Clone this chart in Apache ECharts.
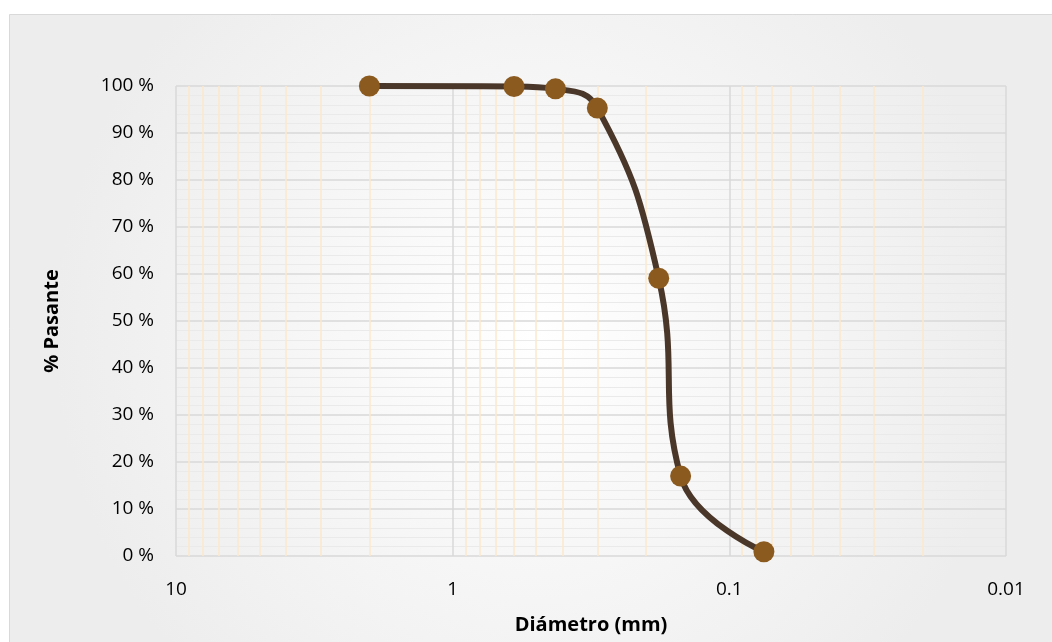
<!DOCTYPE html>
<html>
<head>
<meta charset="utf-8">
<script src="https://cdn.jsdelivr.net/npm/echarts@6/dist/echarts.min.js"></script>
<style>
html,body{margin:0;padding:0;background:#fff;}
#chart{width:1052px;height:642px;}
</style>
</head>
<body>
<div id="chart"></div>
<script>
const diameters = [2.0, 0.6, 0.425, 0.3, 0.18, 0.15, 0.075];
const passing = [100, 99.9, 99.4, 95.3, 59.1, 17.0, 0.9];
const xTickLabels = ['10', '1', '0.1', '0.01'];
const minorGridValues = [9, 8, 7, 6, 5, 4, 3, 2,
  0.9, 0.8, 0.7, 0.6, 0.5, 0.4, 0.3, 0.2,
  0.09, 0.08, 0.07, 0.06, 0.05, 0.04, 0.03, 0.02];

const chart = echarts.init(document.getElementById('chart'));
const font = '"Open Sans", "Noto Sans", sans-serif';

chart.setOption({
  animation: false,
  graphic: [{
    type: 'rect',
    z: -10,
    shape: { x: 9.5, y: 14.5, width: 1050, height: 640 },
    style: {
      fill: new echarts.graphic.RadialGradient(0.5, 0.5, 0.75, [
        { offset: 0, color: '#ffffff' },
        { offset: 1, color: '#ededed' }
      ]),
      stroke: '#d9d9d9',
      lineWidth: 1
    }
  }],
  grid: { left: 176, right: 46, top: 86, bottom: 86, containLabel: false },
  xAxis: {
    type: 'log',
    logBase: 10,
    min: 0.01,
    max: 10,
    inverse: true,
    name: 'Diámetro (mm)',
    nameLocation: 'middle',
    nameGap: 59,
    nameTextStyle: { fontFamily: font, fontSize: 20, fontWeight: 'bold', color: '#000' },
    axisLine: { show: false },
    axisTick: { show: false },
    axisLabel: {
      margin: 24,
      fontFamily: font, fontSize: 19, color: '#000',
      formatter: function (v) {
        const idx = Math.round(1 - Math.log10(v));
        return xTickLabels[idx] !== undefined ? xTickLabels[idx] : String(v);
      }
    },
    splitLine: { show: true, lineStyle: { color: '#d9d9d9', width: 1.5 } }
  },
  yAxis: {
    type: 'value',
    min: 0,
    max: 100,
    interval: 10,
    name: '% Pasante',
    nameLocation: 'middle',
    nameGap: 114,
    nameRotate: 90,
    nameTextStyle: { fontFamily: font, fontSize: 20, fontWeight: 'bold', color: '#000' },
    axisLine: { show: false },
    axisTick: { show: false },
    axisLabel: { margin: 22, fontFamily: font, fontSize: 19, color: '#000', formatter: '{value} %' },
    splitLine: { show: true, lineStyle: { color: '#d9d9d9', width: 1.5 } },
    minorTick: { show: false, splitNumber: 5 },
    minorSplitLine: { show: true, lineStyle: { color: '#eaeaea', width: 1.2 } }
  },
  series: [
    {
      type: 'line',
      z: 1,
      data: [],
      silent: true,
      markLine: {
        z: 1,
        silent: true,
        symbol: ['none', 'none'],
        label: { show: false },
        lineStyle: { color: '#fde8cc', type: 'solid', width: 1.5 },
        data: minorGridValues.map(v => ({ xAxis: v }))
      }
    },
    {
      type: 'line',
      z: 3,
      data: diameters.map((d, i) => [d, passing[i]]),
      smooth: 0.45,
      symbol: 'circle',
      symbolSize: 21,
      lineStyle: { color: '#4a3729', width: 6 },
      itemStyle: { color: '#8b5a1f' }
    }
  ]
});
</script>
</body>
</html>
